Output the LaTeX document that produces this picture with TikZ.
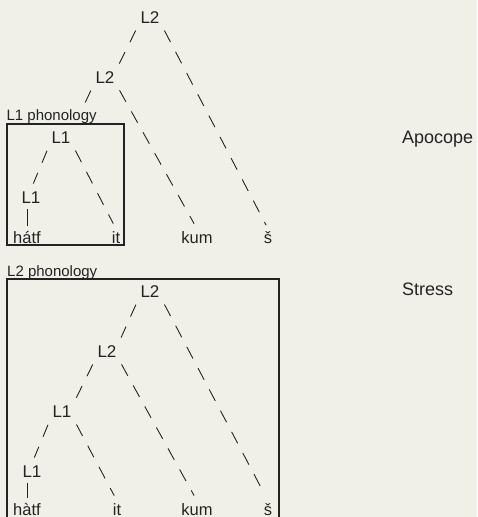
\documentclass[tikz,border=0pt]{standalone}
\usepackage{fontspec}
\setmainfont{Liberation Sans}
\usetikzlibrary{calc}
\definecolor{bg}{RGB}{240,240,233}
\definecolor{ink}{RGB}{35,35,35}
\begin{document}
\begin{tikzpicture}[x=1pt,y=-1pt,
  lab/.style={font=\fontsize{17}{17}\selectfont, text=ink, inner sep=2pt, anchor=base},
  word/.style={font=\fontsize{16.5}{16.5}\selectfont, text=ink, inner sep=2pt, anchor=base},
  side/.style={font=\fontsize{18}{18}\selectfont, text=ink, anchor=base west, inner sep=0pt},
  phon/.style={font=\fontsize{15}{15}\selectfont, text=ink, anchor=base west, inner sep=0pt},
  edge/.style={draw=ink, line width=0.9pt, dash pattern=on 13pt off 11pt, shorten <=6pt, shorten >=6pt},
  stem/.style={draw=ink, line width=0.9pt, shorten <=4pt, shorten >=3pt},
  frame/.style={draw=ink, line width=1.2pt}]
\fill[bg] (0,0) rectangle (477,517);
\useasboundingbox (0,0) rectangle (477,517);

% ---------- top tree ----------
\node[lab] (A) at (150,23) {L2};
\node[lab] (B) at (105,83) {L2};
\node[lab] (C) at (61,143) {L1};
\node[lab] (D) at (31,203) {L1};
\node[word] (w1) at (27,243) {hátf};
\node[word] (w2) at (116,243) {it};
\node[word] (w3) at (197,243) {kum};
\node[word] (w4) at (268,243) {š};
\node[frame, minimum width=117pt, minimum height=121pt, inner sep=0pt] (box1) at (65.5,184.5) {};
\node[phon] (p1) at ($(box1.north west)+(0,-2.5)$) {L1 phonology};
\coordinate (bc) at (85,103);

\draw[edge] (A.south west) -- (B.north east);
\draw[edge, shorten >=4pt] (A.south east) -- (w4.north);
\draw[edge, shorten >=0pt] (B.south west) -- (bc);
\draw[edge] (B.south east) -- (w3.north);
\draw[edge] (C.south west) -- (D.north);
\draw[edge] (C.south east) -- (w2.north);
\draw[stem] (D.south -| w1.north) -- (w1.north);

\node[side] (ap) at (402,143) {Apocope};

% ---------- bottom tree ----------
\coordinate (f1) at (7,520);
\coordinate (f2) at (279,279);
\coordinate (f3) at (279,520);
\draw[frame] (f1) |- (f2) -- (f3);
\node[phon] (p2) at (7,276.5) {L2 phonology};

\node[lab] (A2) at (150,297) {L2};
\node[lab] (B2) at (107,357) {L2};
\node[lab] (C2) at (62,417) {L1};
\node[lab] (D2) at (32,477) {L1};
\node[word] (v1) at (27,515) {hàtf};
\node[word] (v2) at (117,515) {it};
\node[word] (v3) at (197,515) {kum};
\node[word] (v4) at (268,515) {š};

\draw[edge] (A2.south west) -- (B2.north east);
\draw[edge] (A2.south east) -- (v4.north);
\draw[edge] (B2.south west) -- (C2.north east);
\draw[edge] (B2.south east) -- (v3.north);
\draw[edge] (C2.south west) -- (D2.north);
\draw[edge] (C2.south east) -- (v2.north);
\draw[stem] (D2.south -| v1.north) -- (v1.north);

\node[side] (st) at (402,295) {Stress};
\end{tikzpicture}
\end{document}
